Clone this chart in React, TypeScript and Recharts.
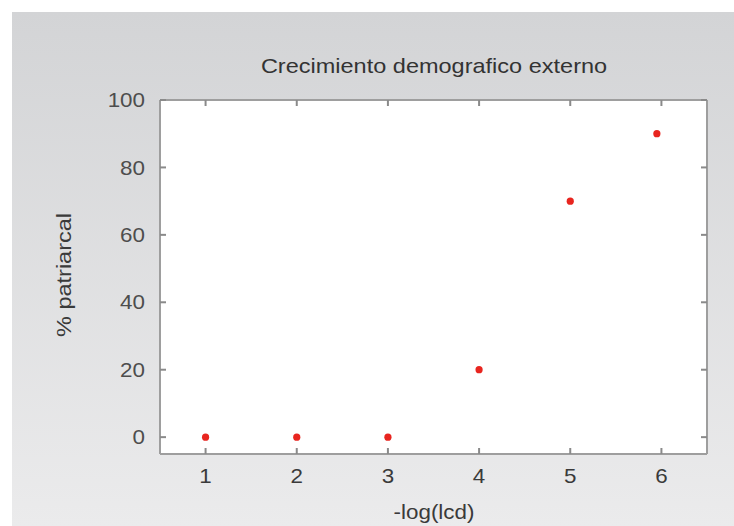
import { ScatterChart, Scatter, XAxis, YAxis } from 'recharts';

// ---------------------------------------------------------------------------
// Data
// ---------------------------------------------------------------------------

const xValues = [1, 2, 3, 4, 5, 5.95];
const pctValues = [0, 0, 0, 20, 70, 90];
const xTicks = [1, 2, 3, 4, 5, 6];
const yTicks = [0, 20, 40, 60, 80, 100];

const TITLE = 'Crecimiento demografico externo';
const X_LABEL = '-log(lcd)';
const Y_LABEL = '% patriarcal';

const points = xValues.map((x, i) => ({ x, y: pctValues[i] }));

// ---------------------------------------------------------------------------
// Styles / layout
// ---------------------------------------------------------------------------

const FONT = '"Liberation Sans", Arial, Helvetica, sans-serif';
const FRAME = { stroke: '#9e9e9e', strokeWidth: 2 };
const TICK_COLOR = '#8a8a8a';
const TICK_LEN = 6;
const LABEL_GAP = 15;
const STRETCH = 1.12;

const PLOT = { left: 160, top: 100, width: 547, height: 354 };

type TickProps = { x?: number; y?: number; payload?: { value: number } };

// tick marks point into the plot; label sits outside
function YTick({ x = 0, y = 0, payload }: TickProps) {
  return (
    <g>
      <line x1={x + LABEL_GAP} x2={x + LABEL_GAP + TICK_LEN} y1={y} y2={y} stroke={TICK_COLOR} strokeWidth={2} />
      <g transform={`translate(${x},${y}) scale(${STRETCH},1)`}>
        <text x={0} y={0} dy="0.36em" textAnchor="end" fontSize={20} fill="#4d4d4d" fontFamily={FONT}>{payload?.value}</text>
      </g>
    </g>
  );
}

// bottom tick + its mirror on the top edge of the frame
function XTick({ x = 0, y = 0, payload }: TickProps) {
  const bottom = y - LABEL_GAP;
  const top = bottom - PLOT.height;
  return (
    <g>
      <line x1={x} x2={x} y1={bottom} y2={bottom - TICK_LEN} stroke={TICK_COLOR} strokeWidth={2} />
      <line x1={x} x2={x} y1={top} y2={top + TICK_LEN} stroke={TICK_COLOR} strokeWidth={2} />
      <g transform={`translate(${x},${y}) scale(${STRETCH},1)`}>
        <text x={0} y={0} dy="0.72em" textAnchor="middle" fontSize={20} fill="#3a3a3a" fontFamily={FONT}>{payload?.value}</text>
      </g>
    </g>
  );
}

const RightTick = ({ x = 0, y = 0 }: TickProps) => (
  <line x1={x} x2={x - TICK_LEN} y1={y} y2={y} stroke={TICK_COLOR} strokeWidth={2} />
);

const Dot = (props: { cx?: number; cy?: number }) => <circle cx={props.cx} cy={props.cy} r={3.6} fill="#e8251f" />;

// ---------------------------------------------------------------------------
// App
// ---------------------------------------------------------------------------

export default function App() {
  return (
    <div style={{ position: 'absolute', left: 0, top: 0, width: 734, height: 526, background: '#fff', overflow: 'hidden' }}>
      <div style={{ position: 'absolute', left: 12, top: 12, width: 722, height: 514, background: 'linear-gradient(to bottom, #d3d4d6, #ebebec)' }} />
      <div style={{ position: 'absolute', ...PLOT, background: '#fff' }} />
      <div style={{ position: 'absolute', left: 0, top: 0 }}>
        <ScatterChart width={734} height={526} margin={{ top: 90, right: 17, bottom: 10, left: 10 }}>
          <XAxis type="number" dataKey="x" domain={[0.5, 6.5]} ticks={xTicks} allowDataOverflow
            height={62} tickSize={0} tickMargin={LABEL_GAP} axisLine={FRAME} tickLine={false} tick={<XTick />} />
          <XAxis xAxisId="top" orientation="top" type="number" domain={[0.5, 6.5]} ticks={xTicks} allowDataOverflow
            height={10} tickSize={0} axisLine={FRAME} tickLine={false} tick={false} />
          <YAxis type="number" dataKey="y" domain={[-5, 100]} ticks={yTicks} allowDataOverflow
            width={150} tickSize={0} tickMargin={LABEL_GAP} axisLine={FRAME} tickLine={false} tick={<YTick />} />
          <YAxis yAxisId="right" orientation="right" type="number" domain={[-5, 100]} ticks={yTicks} allowDataOverflow
            width={10} tickSize={0} tickMargin={0} axisLine={FRAME} tickLine={false} tick={<RightTick />} />
          <Scatter data={points} shape={<Dot />} isAnimationActive={false} />
        </ScatterChart>
      </div>
      <svg width={734} height={526} style={{ position: 'absolute', left: 0, top: 0, pointerEvents: 'none' }}>
        <g transform={`translate(434,73) scale(${STRETCH},1)`}>
          <text textAnchor="middle" fontSize={21} fill="#333" fontFamily={FONT}>{TITLE}</text>
        </g>
        <g transform={`translate(434,519) scale(${STRETCH},1)`}>
          <text textAnchor="middle" fontSize={20} fill="#3a3a3a" fontFamily={FONT}>{X_LABEL}</text>
        </g>
        <g transform={`translate(71,275) rotate(-90) scale(${STRETCH},1)`}>
          <text textAnchor="middle" fontSize={21} fill="#3a3a3a" fontFamily={FONT}>{Y_LABEL}</text>
        </g>
      </svg>
    </div>
  );
}
